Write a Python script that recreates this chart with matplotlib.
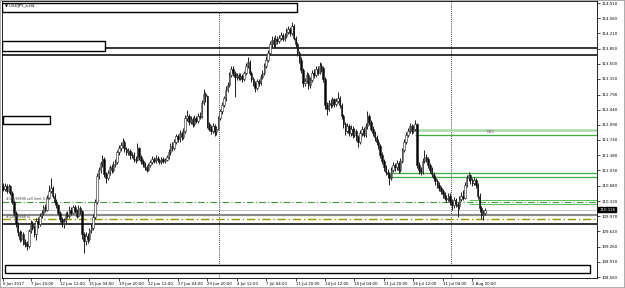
import matplotlib
matplotlib.use("Agg")
import matplotlib.pyplot as plt
from matplotlib.patches import Rectangle

# USDJPY H4 candles (bar index 0..262)
opens = [
    110.65, 110.60, 110.68, 110.55, 110.66, 110.52, 110.30, 110.05, 109.78, 109.60,
    109.45, 109.55, 109.38, 109.32, 109.28, 109.62, 109.80, 109.70, 109.55, 109.85,
    109.78, 109.98, 110.05, 110.18, 110.12, 110.40, 110.55, 110.62, 110.45, 110.30,
    110.22, 110.05, 109.90, 109.78, 109.85, 110.00, 109.98, 110.12, 110.05, 110.18,
    110.10, 109.98, 110.15, 110.08, 109.55, 109.40, 109.52, 109.45, 109.65, 109.70,
    109.95, 110.30, 110.90, 111.05, 111.20, 111.30, 110.95, 110.85, 110.98, 111.10,
    111.05, 111.18, 111.22, 111.45, 111.55, 111.62, 111.70, 111.52, 111.45, 111.48,
    111.38, 111.40, 111.30, 111.28, 111.55, 111.35, 111.25, 111.18, 111.10, 111.05,
    111.15, 111.22, 111.30, 111.25, 111.32, 111.28, 111.22, 111.30, 111.25, 111.28,
    111.35, 111.45, 111.60, 111.55, 111.70, 111.82, 111.75, 111.90, 111.80, 111.95,
    112.25, 112.30, 112.15, 112.22, 112.10, 112.25, 112.18, 112.30, 112.28, 112.60,
    112.80, 112.75, 112.10, 112.00, 111.95, 112.05, 111.92, 112.00, 112.25, 112.40,
    112.55, 112.70, 112.90, 113.00, 113.25, 113.38, 113.30, 113.20, 113.25, 113.18,
    113.22, 113.15, 113.28, 113.45, 113.55, 113.30, 113.15, 113.05, 112.95, 113.10,
    113.05, 113.20, 113.30, 113.45, 113.60, 113.75, 113.95, 114.05, 113.95, 114.08,
    114.02, 114.10, 114.18, 114.08, 114.15, 114.25, 114.30, 114.22, 114.38, 114.10,
    113.95, 113.75, 113.60, 113.35, 113.05, 113.10, 113.25, 113.00, 113.12, 113.30,
    113.25, 113.38, 113.30, 113.45, 113.40, 113.15, 112.55, 112.45, 112.60, 112.55,
    112.68, 112.58, 112.65, 112.72, 112.55, 112.30, 112.10, 111.95, 112.05, 111.90,
    112.00, 111.85, 111.95, 111.80, 111.70, 111.90, 111.98, 111.85, 112.05, 112.30,
    112.15, 112.00, 111.90, 111.80, 111.70, 111.60, 111.40, 111.25, 111.10, 111.00,
    110.95, 110.85, 111.05, 111.15, 111.10, 111.20, 111.05, 111.25, 111.50, 111.70,
    111.85, 111.95, 112.05, 111.95, 112.00, 112.10, 111.15, 111.05, 111.00, 111.25,
    111.35, 111.30, 111.15, 111.05, 110.95, 110.85, 110.78, 110.70, 110.62, 110.55,
    110.48, 110.40, 110.38, 110.45, 110.30, 110.22, 110.35, 110.25, 110.20, 110.38,
    110.45, 110.40, 110.70, 110.85, 110.92, 110.80, 110.75, 110.82, 110.70, 110.45,
    110.15, 110.00, 110.05,
]
highs = [
    110.74, 110.74, 110.72, 110.72, 110.70, 110.56, 110.35, 110.10, 109.84, 109.66,
    109.62, 109.60, 109.45, 109.40, 109.68, 109.88, 109.86, 109.76, 109.92, 109.95,
    110.04, 110.12, 110.24, 110.26, 110.46, 110.70, 110.86, 110.68, 110.50, 110.36,
    110.26, 110.10, 109.95, 109.92, 110.06, 110.08, 110.20, 110.18, 110.24, 110.22,
    110.14, 110.22, 110.20, 110.12, 109.60, 109.60, 109.58, 109.70, 109.78, 110.02,
    110.36, 110.97, 111.12, 111.26, 111.39, 111.34, 111.00, 111.04, 111.16, 111.18,
    111.24, 111.30, 111.50, 111.62, 111.70, 111.78, 111.74, 111.58, 111.55, 111.52,
    111.46, 111.45, 111.36, 111.67, 111.58, 111.40, 111.30, 111.22, 111.15, 111.20,
    111.28, 111.36, 111.35, 111.38, 111.36, 111.32, 111.35, 111.34, 111.33, 111.40,
    111.52, 111.66, 111.68, 111.76, 111.88, 111.88, 111.96, 111.95, 112.02, 112.32,
    112.43, 112.35, 112.30, 112.26, 112.32, 112.30, 112.36, 112.38, 112.66, 112.92,
    112.86, 112.78, 112.15, 112.08, 112.12, 112.10, 112.06, 112.30, 112.46, 112.62,
    112.76, 112.98, 113.08, 113.32, 113.45, 113.44, 113.34, 113.30, 113.29, 113.28,
    113.27, 113.34, 113.52, 113.66, 113.58, 113.34, 113.20, 113.10, 113.16, 113.15,
    113.26, 113.36, 113.52, 113.68, 113.82, 114.02, 114.14, 114.12, 114.16, 114.14,
    114.18, 114.25, 114.22, 114.22, 114.32, 114.38, 114.35, 114.47, 114.42, 114.15,
    114.00, 113.80, 113.65, 113.40, 113.18, 113.32, 113.30, 113.20, 113.36, 113.38,
    113.45, 113.44, 113.54, 113.52, 113.44, 113.20, 112.62, 112.66, 112.68, 112.74,
    112.72, 112.72, 112.85, 112.76, 112.60, 112.35, 112.15, 112.12, 112.10, 112.08,
    112.05, 112.02, 112.00, 111.85, 111.96, 112.06, 112.04, 112.12, 112.41, 112.34,
    112.20, 112.05, 111.95, 111.85, 111.76, 111.65, 111.45, 111.30, 111.16, 111.06,
    111.00, 111.10, 111.22, 111.20, 111.28, 111.25, 111.32, 111.56, 111.76, 111.92,
    112.02, 112.12, 112.10, 112.08, 112.20, 112.14, 111.22, 111.12, 111.32, 111.50,
    111.42, 111.34, 111.20, 111.10, 111.00, 110.92, 110.84, 110.76, 110.68, 110.60,
    110.54, 110.46, 110.51, 110.50, 110.36, 110.42, 110.40, 110.30, 110.44, 110.54,
    110.58, 110.76, 110.92, 111.00, 110.96, 110.86, 110.88, 110.86, 110.74, 110.50,
    110.20, 110.12, 110.16,
]
lows = [
    110.55, 110.56, 110.50, 110.52, 110.46, 110.25, 109.98, 109.72, 109.52, 109.38,
    109.40, 109.30, 109.25, 109.19, 109.24, 109.58, 109.64, 109.48, 109.42, 109.70,
    109.74, 109.92, 110.00, 110.06, 110.08, 110.36, 110.50, 110.40, 110.24, 110.15,
    110.00, 109.84, 109.72, 109.70, 109.80, 109.92, 109.94, 110.00, 110.02, 110.04,
    109.93, 109.95, 110.02, 109.45, 109.12, 109.30, 109.36, 109.40, 109.58, 109.66,
    109.90, 110.26, 110.84, 110.98, 111.12, 110.88, 110.74, 110.80, 110.92, 110.98,
    111.00, 111.12, 111.18, 111.40, 111.48, 111.55, 111.46, 111.38, 111.40, 111.30,
    111.32, 111.22, 111.20, 111.24, 111.28, 111.18, 111.10, 111.04, 110.99, 111.01,
    111.10, 111.18, 111.20, 111.21, 111.22, 111.17, 111.18, 111.20, 111.20, 111.24,
    111.30, 111.40, 111.48, 111.50, 111.65, 111.68, 111.70, 111.74, 111.76, 111.90,
    112.18, 112.08, 112.10, 112.04, 112.06, 112.12, 112.14, 112.22, 112.24, 112.55,
    112.62, 112.02, 111.94, 111.88, 111.90, 111.83, 111.86, 111.96, 112.20, 112.35,
    112.50, 112.65, 112.84, 112.96, 113.20, 113.22, 112.73, 113.12, 113.12, 113.13,
    113.08, 113.10, 113.24, 113.40, 113.24, 113.08, 112.98, 112.85, 112.90, 112.98,
    113.00, 113.14, 113.25, 113.40, 113.55, 113.70, 113.90, 113.88, 113.90, 113.96,
    113.98, 114.05, 114.02, 114.04, 114.10, 114.20, 114.15, 114.18, 114.05, 113.88,
    113.68, 113.52, 113.28, 112.96, 112.98, 113.05, 112.92, 112.95, 113.08, 113.18,
    113.20, 113.24, 113.26, 113.32, 113.08, 112.45, 112.32, 112.40, 112.48, 112.50,
    112.50, 112.52, 112.60, 112.48, 112.22, 112.02, 111.85, 111.90, 111.82, 111.84,
    111.78, 111.80, 111.72, 111.57, 111.65, 111.84, 111.80, 111.80, 112.00, 112.08,
    111.94, 111.82, 111.72, 111.62, 111.52, 111.32, 111.18, 111.02, 110.92, 110.86,
    110.69, 110.80, 111.00, 111.02, 111.05, 110.98, 111.00, 111.20, 111.45, 111.65,
    111.80, 111.90, 111.88, 111.90, 111.95, 111.08, 110.96, 110.93, 110.96, 111.20,
    111.22, 111.08, 110.98, 110.88, 110.78, 110.70, 110.63, 110.56, 110.48, 110.40,
    110.34, 110.30, 110.32, 110.22, 110.11, 110.16, 110.18, 109.95, 110.14, 110.32,
    110.34, 110.36, 110.65, 110.78, 110.72, 110.68, 110.70, 110.62, 110.38, 110.06,
    109.90, 109.88, 110.00,
]
closes = [
    110.60, 110.68, 110.55, 110.66, 110.52, 110.30, 110.05, 109.78, 109.60, 109.45,
    109.55, 109.38, 109.32, 109.28, 109.62, 109.80, 109.70, 109.55, 109.85, 109.78,
    109.98, 110.05, 110.18, 110.12, 110.40, 110.55, 110.62, 110.45, 110.30, 110.22,
    110.05, 109.90, 109.78, 109.85, 110.00, 109.98, 110.12, 110.05, 110.18, 110.10,
    109.98, 110.15, 110.08, 109.55, 109.40, 109.52, 109.45, 109.65, 109.70, 109.95,
    110.30, 110.90, 111.05, 111.20, 111.30, 110.95, 110.85, 110.98, 111.10, 111.05,
    111.18, 111.22, 111.45, 111.55, 111.62, 111.70, 111.52, 111.45, 111.48, 111.38,
    111.40, 111.30, 111.28, 111.55, 111.35, 111.25, 111.18, 111.10, 111.05, 111.15,
    111.22, 111.30, 111.25, 111.32, 111.28, 111.22, 111.30, 111.25, 111.28, 111.35,
    111.45, 111.60, 111.55, 111.70, 111.82, 111.75, 111.90, 111.80, 111.95, 112.25,
    112.30, 112.15, 112.22, 112.10, 112.25, 112.18, 112.30, 112.28, 112.60, 112.80,
    112.75, 112.10, 112.00, 111.95, 112.05, 111.92, 112.00, 112.25, 112.40, 112.55,
    112.70, 112.90, 113.00, 113.25, 113.38, 113.30, 113.20, 113.25, 113.18, 113.22,
    113.15, 113.28, 113.45, 113.55, 113.30, 113.15, 113.05, 112.95, 113.10, 113.05,
    113.20, 113.30, 113.45, 113.60, 113.75, 113.95, 114.05, 113.95, 114.08, 114.02,
    114.10, 114.18, 114.08, 114.15, 114.25, 114.30, 114.22, 114.38, 114.10, 113.95,
    113.75, 113.60, 113.35, 113.05, 113.10, 113.25, 113.00, 113.12, 113.30, 113.25,
    113.38, 113.30, 113.45, 113.40, 113.15, 112.55, 112.45, 112.60, 112.55, 112.68,
    112.58, 112.65, 112.72, 112.55, 112.30, 112.10, 111.95, 112.05, 111.90, 112.00,
    111.85, 111.95, 111.80, 111.70, 111.90, 111.98, 111.85, 112.05, 112.30, 112.15,
    112.00, 111.90, 111.80, 111.70, 111.60, 111.40, 111.25, 111.10, 111.00, 110.95,
    110.85, 111.05, 111.15, 111.10, 111.20, 111.05, 111.25, 111.50, 111.70, 111.85,
    111.95, 112.05, 111.95, 112.00, 112.10, 111.15, 111.05, 111.00, 111.25, 111.35,
    111.30, 111.15, 111.05, 110.95, 110.85, 110.78, 110.70, 110.62, 110.55, 110.48,
    110.40, 110.38, 110.45, 110.30, 110.22, 110.35, 110.25, 110.20, 110.38, 110.45,
    110.40, 110.70, 110.85, 110.92, 110.80, 110.75, 110.82, 110.70, 110.45, 110.15,
    110.00, 110.05, 110.12,
]

# time axis labels (bar index -> text)
xtick_idx = [0, 15, 31, 47, 63, 79, 95, 111, 127, 143, 159, 175, 191, 207, 223, 239, 255]
xtick_lbl = ["6 Jun 2017", "7 Jun 20:00", "12 Jun 12:00", "15 Jun 04:00", "19 Jun 20:00",
             "22 Jun 12:00", "27 Jun 04:00", "29 Jun 20:00", "4 Jul 12:00", "7 Jul 04:00",
             "11 Jul 20:00", "14 Jul 12:00", "19 Jul 04:00", "21 Jul 20:00", "26 Jul 12:00",
             "31 Jul 04:00", "2 Aug 20:00"]
price_ticks = [114.910, 114.560, 114.210, 113.850, 113.500, 113.150, 112.790, 112.440,
               112.090, 111.740, 111.380, 111.030, 110.680, 110.320, 109.970, 109.620,
               109.260, 108.910, 108.560]
month_sep = [117.5, 243.5]
bid = 110.126

fig = plt.figure(figsize=(6.25, 2.88), dpi=100)
ax = fig.add_axes([2/625, 10/288, 595/625, 277/288])
ax.set_xlim(-0.55, 322.8)
ax.set_ylim(108.539, 114.957)

# horizontal objects
ax.axhline(113.87, color='black', lw=1.1, zorder=2)
ax.axhline(113.70, color='black', lw=1.1, zorder=2)
ax.axhline(110.30, color='#3f9a3f', lw=0.8, ls=(0, (6, 2, 1, 2)), zorder=2)
ax.axhline(110.12, color='#c8c8c8', lw=0.8, zorder=2)
ax.axhline(110.00, color='#8a8a8a', lw=1.6, zorder=2)
ax.axhline(109.91, color='#9a9400', lw=1.0, ls=(0, (6, 2, 1, 2)), zorder=2)
ax.axhline(109.79, color='black', lw=1.1, zorder=2)
ax.hlines([111.97], 224, 330, color='#a8d8a8', lw=1.8, zorder=2)
ax.hlines([111.86], 224, 330, color='#3cae3c', lw=0.9, zorder=2)
ax.hlines([110.98, 110.89], 209, 330, color='#3cae3c', lw=0.9, zorder=2)
ax.hlines([110.35, 110.26], 253, 330, color='#5cbf5c', lw=0.7, zorder=2)
ax.text(263, 111.915, "M15", fontsize=2.8, color='#8a5a8a', va='center', zorder=3)

# rectangles
for x0, x1, y0, y1 in [(-0.55, 160, 114.70, 114.92), (-0.55, 55.4, 113.79, 114.03),
                       (0, 25.5, 112.10, 112.30), (1, 319, 108.65, 108.84)]:
    ax.add_patch(Rectangle((x0, y0), x1 - x0, y1 - y0, facecolor='white',
                           edgecolor='black', lw=1.0, zorder=2))

# month separators
for s in month_sep:
    ax.axvline(s, color='black', lw=0.6, ls=(0, (1, 1.5)), zorder=1)

# candles
idx = list(range(len(closes)))
ax.vlines(idx, lows, highs, color='#202020', lw=0.7, zorder=4)
for i, o, c in zip(idx, opens, closes):
    lo, hi = min(o, c), max(o, c)
    h = max(hi - lo, 0.01)
    fc = 'white' if c >= o else 'black'
    ax.add_patch(Rectangle((i - 0.4, lo), 0.8, h, facecolor=fc, edgecolor='#202020',
                           lw=0.4, zorder=5))

# order labels
ax.text(1.5, 110.32, "#12599690 sell limit 0.10", fontsize=2.4, color='#404040',
        va='bottom', zorder=6)
ax.text(1.5, 109.955, "#12599688 sl", fontsize=2.4, color='#404040', va='center', zorder=6)

# axes styling
for sp in ax.spines.values():
    sp.set_color('black')
    sp.set_linewidth(0.6)
ax.yaxis.tick_right()
ax.set_yticks(price_ticks)
ax.set_yticklabels([f"{p:.3f}" for p in price_ticks])
ax.set_xticks(xtick_idx)
ax.set_xticklabels(xtick_lbl, ha='left')
ax.tick_params(axis='y', direction='out', length=2, width=0.5, pad=1, labelsize=2.8)
ax.tick_params(axis='x', direction='out', length=2, width=0.5, pad=1, labelsize=2.8)

# bid tag on the price scale
ax.text(1.004, bid, f"{bid:.3f}", transform=ax.get_yaxis_transform(), fontsize=2.8,
        color='white', va='center', ha='left',
        bbox=dict(boxstyle='square,pad=0.25', facecolor='black', edgecolor='black'),
        clip_on=False, zorder=10)

fig.text(5/625, 1 - 6/288, "\u25bc USDJPY_a,H4", fontsize=2.8, va='center', ha='left')
fig.patches.append(Rectangle((0, 0), 1, 1, transform=fig.transFigure, fill=False,
                             edgecolor='#a0a0a0', lw=1.2))

fig.savefig("out.png", dpi=100)
